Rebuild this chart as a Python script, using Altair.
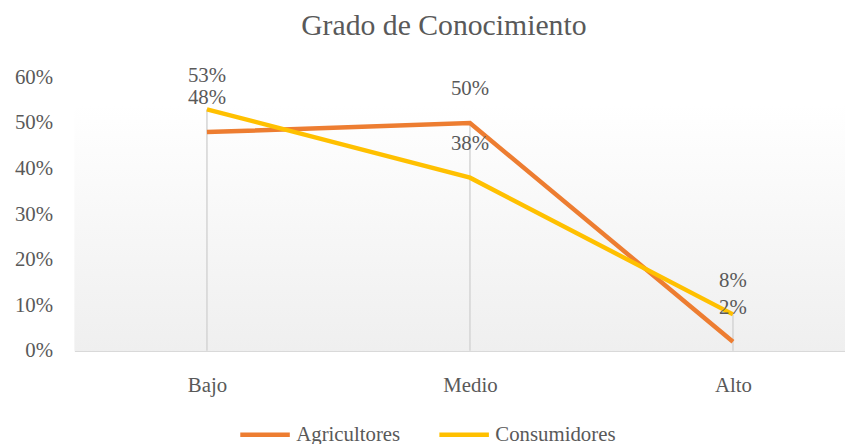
import altair as alt
import pandas as pd

categories = ["Bajo", "Medio", "Alto"]
agricultores = [0.48, 0.50, 0.02]
consumidores = [0.53, 0.38, 0.08]
series_names = ["Agricultores", "Consumidores"]
series_colors = ["#ED7D31", "#FFC000"]
y_ticks = [0, 0.1, 0.2, 0.3, 0.4, 0.5, 0.6]

rows = []
for name, vals in zip(series_names, [agricultores, consumidores]):
    for c, v in zip(categories, vals):
        rows.append({"cat": c, "serie": name, "valor": v})
df = pd.DataFrame(rows)
drop = df.groupby("cat", as_index=False)["valor"].max()
drop["cero"] = 0.0

FONT = "Liberation Serif"
GRAY = "#595959"
FS = 21

x_enc = alt.X(
    "cat:N", sort=categories,
    scale=alt.Scale(type="point", padding=0.465, align=0.542),
    axis=alt.Axis(title=None, labelAngle=0, ticks=False, domain=True,
                  domainColor="#d9d9d9", domainWidth=1.5, grid=False,
                  labelPadding=24, labelFontSize=FS, labelFont=FONT,
                  labelColor=GRAY),
)
y_scale = alt.Scale(domain=[0, 0.6], nice=False)
y_axis = alt.Axis(title=None, values=y_ticks, format=".0%", grid=False,
                  domain=False, ticks=False, labelPadding=22,
                  labelFontSize=FS, labelFont=FONT, labelColor=GRAY)

gradient = {
    "gradient": "linear", "x1": 0, "y1": 0, "x2": 0, "y2": 1,
    "stops": [{"offset": 0, "color": "#ffffff"},
              {"offset": 0.1, "color": "#ffffff"},
              {"offset": 1, "color": "#efefef"}],
}

bg = alt.Chart(pd.DataFrame({"a": [0]})).mark_rect(fill=gradient).encode(
    x=alt.value(0), x2=alt.value("width"), y=alt.value(0), y2=alt.value("height")
)

rules = alt.Chart(drop).mark_rule(color="#d4d4d4", strokeWidth=1.5).encode(
    x=x_enc,
    y=alt.Y("valor:Q", scale=y_scale, axis=y_axis),
    y2="cero:Q",
)

lines = alt.Chart(df).mark_line(strokeWidth=4.5).encode(
    x=x_enc,
    y=alt.Y("valor:Q", scale=y_scale, axis=y_axis),
    color=alt.Color(
        "serie:N",
        scale=alt.Scale(domain=series_names, range=series_colors),
        legend=alt.Legend(title=None, orient="none", direction="horizontal",
                          legendX=165, legendY=333,
                          symbolType="stroke", symbolSize=2500,
                          symbolStrokeWidth=4.5, labelFont=FONT,
                          labelFontSize=FS, labelColor=GRAY,
                          columnPadding=30, labelOffset=4),
    ),
    order=alt.Order("serie:N"),
)

labels = alt.Chart(df).mark_text(
    dy=-34, font=FONT, fontSize=FS, color=GRAY, baseline="middle"
).encode(
    x=x_enc,
    y=alt.Y("valor:Q", scale=y_scale, axis=y_axis),
    text=alt.Text("valor:Q", format=".0%"),
)

chart = alt.layer(bg, rules, lines, labels).properties(
    width=778,
    height=276,
    title=alt.TitleParams("Grado de Conocimiento", font=FONT, fontSize=30,
                          color=GRAY, fontWeight="normal", anchor="middle",
                          offset=24, dx=-16),
    autosize=alt.AutoSizeParams(type="none"),
    padding={"left": 67, "top": 68, "right": 0, "bottom": 92},
).configure_view(stroke=None)

chart.save("out.html", embed_options={"renderer": "svg", "actions": False})
